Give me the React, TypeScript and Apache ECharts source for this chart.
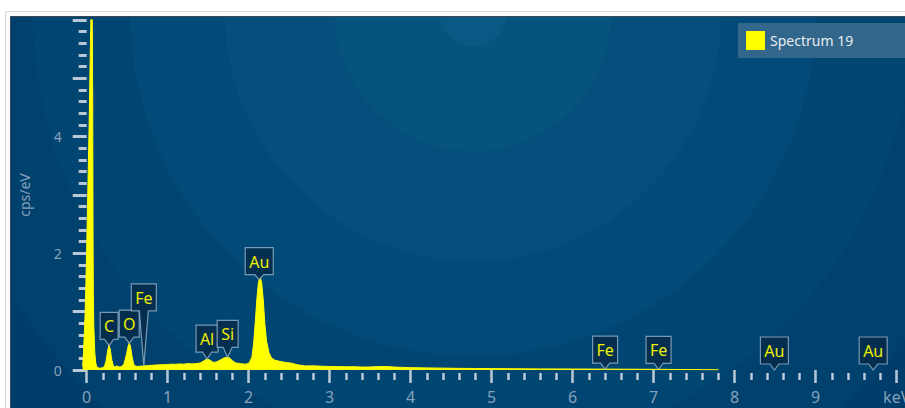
import React, { useEffect, useRef } from "react";
import * as echarts from "echarts";

// EDS spectrum (keV vs cps/eV)
const seriesName = "Spectrum 19";

const energyKeV = [
  -0.05, -0.04, -0.03, -0.02, -0.01, 0, 0.01, 0.02, 0.03, 0.04, 0.05, 0.056, 0.062, 0.068, 0.074, 0.078, 0.082, 0.088, 0.1, 0.11, 0.12, 0.14, 0.16, 0.18, 0.2,
  0.22, 0.24, 0.26, 0.275, 0.29, 0.31, 0.33, 0.35, 0.37, 0.39, 0.41, 0.43, 0.46, 0.49, 0.51, 0.525, 0.54, 0.56, 0.58, 0.6, 0.63, 0.66, 0.7,
  0.75, 0.8, 0.85, 0.9, 0.95, 1.0, 1.05, 1.1, 1.15, 1.2, 1.25, 1.3, 1.35, 1.4, 1.44, 1.47, 1.49, 1.52, 1.55, 1.58, 1.62, 1.66, 1.7, 1.73, 1.76, 1.8, 1.84, 1.9, 1.95, 2.0,
  2.04, 2.06, 2.08, 2.1, 2.12, 2.14, 2.16, 2.18, 2.2, 2.22, 2.25, 2.28, 2.32, 2.38, 2.45, 2.52, 2.6,
  2.7, 2.8, 2.9, 3.0, 3.1, 3.2, 3.3, 3.4, 3.5, 3.6, 3.7, 3.8, 3.9, 4.0, 4.2, 4.4, 4.6, 4.8, 5.0, 5.2,
  5.4, 5.6, 5.8, 6.0, 6.2, 6.4, 6.6, 6.8, 7.0, 7.2, 7.4, 7.6, 7.8,
];

const countsCpsPerEv = [
  0.06, 0.3, 0.6, 0.95, 1.5, 2.1, 2.8, 3.5, 4.2, 5.1, 5.9, 7.4, 9.0, 6.2, 4.6, 2.4, 1.3, 0.75, 0.3, 0.14, 0.07, 0.04, 0.03, 0.035, 0.04,
  0.07, 0.16, 0.34, 0.43, 0.36, 0.17, 0.07, 0.05, 0.07, 0.06, 0.05, 0.06, 0.1, 0.26, 0.4, 0.46, 0.41, 0.23, 0.1, 0.07, 0.06, 0.065, 0.07,
  0.075, 0.08, 0.085, 0.09, 0.09, 0.095, 0.1, 0.098, 0.104, 0.1, 0.11, 0.105, 0.11, 0.12, 0.15, 0.18, 0.19, 0.17, 0.14, 0.13, 0.15, 0.18, 0.21, 0.22, 0.21, 0.16, 0.12, 0.11, 0.1, 0.11,
  0.22, 0.45, 0.8, 1.2, 1.5, 1.6, 1.5, 1.2, 0.78, 0.5, 0.3, 0.21, 0.17, 0.15, 0.13, 0.12, 0.09,
  0.07, 0.072, 0.065, 0.06, 0.058, 0.055, 0.056, 0.05, 0.052, 0.058, 0.06, 0.05, 0.045, 0.04, 0.036, 0.032, 0.028, 0.026, 0.024, 0.022,
  0.02, 0.019, 0.018, 0.017, 0.016, 0.015, 0.014, 0.013, 0.012, 0.01, 0.008, 0.006, 0.004,
];

// Element line markers
const peakNames = ["C", "O", "Fe", "Al", "Si", "Au", "Fe", "Fe", "Au", "Au"];
const peakEnergies = [0.277, 0.525, 0.705, 1.486, 1.74, 2.13, 6.4, 7.06, 8.49, 9.71];

// Axis ticks and labels
const xMajorTicks = [0, 1, 2, 3, 4, 5, 6, 7, 8, 9, 10];
const xUnitLabel = "keV";
const yLabelValues = [0, 2, 4];

// Layout: length of each marker's pointer (px), same order as peakNames
const pointerLengths = [6, 6, 55, 7, 10, 5, 6, 6, 6, 6];

const FONT = "Noto Sans";
const TICK_COLOR = "#b9c9d8";
const LABEL_COLOR = "#86a1bc";
const MARKER_FONT_SIZE = 16;
const BOX_H = 27;

const xMinorTicks: number[] = [];
for (let i = 0; i < xMajorTicks.length - 1; i++) {
  for (let j = 1; j < 5; j++) xMinorTicks.push(+(xMajorTicks[i] + j * 0.2).toFixed(2));
}

function spectrumAt(e: number): number {
  for (let i = 0; i < energyKeV.length - 1; i++) {
    if (e >= energyKeV[i] && e <= energyKeV[i + 1]) {
      const t = (e - energyKeV[i]) / (energyKeV[i + 1] - energyKeV[i]);
      return countsCpsPerEv[i] + t * (countsCpsPerEv[i + 1] - countsCpsPerEv[i]);
    }
  }
  return 0;
}

let measureCtx: CanvasRenderingContext2D | null = null;
function textWidth(t: string): number {
  if (!measureCtx) measureCtx = document.createElement("canvas").getContext("2d");
  if (!measureCtx) return t.length * 9;
  measureCtx.font = `${MARKER_FONT_SIZE}px "${FONT}"`;
  return measureCtx.measureText(t).width;
}

// banded radial glow of the panel background
const ringRadii = [33, 138, 248, 343, 440, 540, 640, 740, 900];
const ringColors = ["#0a5884", "#06537e", "#044f7b", "#024a77", "#014572", "#00416e", "#003d6a", "#003a67", "#003966"];
const GLOW_R = 900;
const glowStops: { offset: number; color: string }[] = [];
ringRadii.forEach((r, i) => {
  const start = i === 0 ? 0 : ringRadii[i - 1] / GLOW_R;
  glowStops.push({ offset: start, color: ringColors[i] });
  glowStops.push({ offset: r / GLOW_R, color: ringColors[i] });
});

export default function App() {
  const ref = useRef<HTMLDivElement>(null);

  useEffect(() => {
    if (!ref.current) return;
    const chart = echarts.init(ref.current, null, { renderer: "svg" });

    const xMin = -0.05;
    const xMax = 10.1;
    const grid = { left: 82.65, top: 20, width: 822.15, height: 350, outerBoundsMode: "none" };

    const option: any = {
      animation: false,
      backgroundColor: "#ffffff",
      graphic: {
        elements: [
          {
            type: "rect",
            z: -100,
            silent: true,
            shape: { x: 5.5, y: 11.5, width: 940, height: 440 },
            style: { fill: "#fbfbfb", stroke: "#d8d8d8", lineWidth: 1 },
          },
          {
            type: "rect",
            z: -99,
            silent: true,
            shape: { x: 10.5, y: 16.5, width: 940, height: 440 },
            style: {
              fill: { type: "radial", x: 473, y: 13, r: GLOW_R, global: true, colorStops: glowStops },
              stroke: "#3b4856",
              lineWidth: 1,
            },
          },
        ],
      },
      legend: {
        data: [{ name: seriesName, icon: "rect" }],
        left: 738,
        top: 23,
        padding: [8, 60, 8, 8],
        itemWidth: 19,
        itemHeight: 19,
        backgroundColor: "#33668b",
        textStyle: { color: "#e6edf3", fontSize: 14, fontFamily: FONT },
        selectedMode: false,
      },
      grid,
      xAxis: [
        {
          type: "value",
          min: xMin,
          max: xMax,
          position: "bottom",
          offset: 3,
          axisLine: { show: false },
          splitLine: { show: false },
          axisTick: {
            show: true,
            customValues: xMajorTicks,
            length: 13,
            lineStyle: { color: TICK_COLOR, width: 2.5 },
          },
          axisLabel: {
            customValues: xMajorTicks,
            formatter: (v: number) => (v === xMajorTicks[xMajorTicks.length - 1] ? xUnitLabel : String(v)),
            margin: 16,
            fontSize: 16,
            fontFamily: FONT,
            color: LABEL_COLOR,
          },
        },
        {
          type: "value",
          min: xMin,
          max: xMax,
          position: "bottom",
          offset: 3,
          axisLine: { show: false },
          splitLine: { show: false },
          axisTick: {
            show: true,
            customValues: xMinorTicks,
            length: 7,
            lineStyle: { color: TICK_COLOR, width: 2.5 },
          },
          axisLabel: { show: false },
        },
      ],
      yAxis: {
        type: "value",
        min: 0,
        max: 6,
        interval: 1,
        offset: 6,
        name: "cps/eV",
        nameLocation: "middle",
        nameGap: 45,
        nameTextStyle: { color: LABEL_COLOR, fontSize: 14, fontFamily: FONT },
        axisLine: { show: false },
        splitLine: { show: false },
        axisTick: { show: true, length: 14, lineStyle: { color: TICK_COLOR, width: 3 } },
        minorTick: { show: true, splitNumber: 5, length: 8, lineStyle: { color: TICK_COLOR, width: 3 } },
        axisLabel: {
          customValues: yLabelValues,
          margin: 15,
          fontSize: 14,
          fontFamily: FONT,
          color: LABEL_COLOR,
        },
      },
      series: [
        {
          type: "line",
          name: seriesName,
          xAxisIndex: 0,
          yAxisIndex: 0,
          data: energyKeV.map((e, i) => [e, countsCpsPerEv[i]]),
          showSymbol: false,
          symbol: "none",
          clip: true,
          z: 3,
          itemStyle: { color: "#ffff00" },
          lineStyle: { color: "#ffff00", width: 1 },
          areaStyle: { color: "#ffff00", opacity: 1 },
        },
        {
          type: "custom",
          name: "markers",
          xAxisIndex: 0,
          yAxisIndex: 0,
          z: 6,
          silent: true,
          data: peakEnergies.map((e, i) => [e, spectrumAt(e), i]),
          encode: { x: 0, y: 1 },
          renderItem: (params: any, api: any) => {
            const idx = api.value(2);
            const pt = api.coord([api.value(0), api.value(1)]);
            const tx = pt[0];
            const ty = pt[1];
            const name = peakNames[idx];
            const w = Math.round(textWidth(name)) + 8;
            const bottom = ty - pointerLengths[idx];
            const top = bottom - BOX_H;
            const left = tx - w / 2;
            const right = tx + w / 2;
            const hw = 4.5;
            return {
              type: "group",
              children: [
                {
                  type: "polygon",
                  shape: {
                    points: [
                      [left, top],
                      [right, top],
                      [right, bottom],
                      [tx + hw, bottom],
                      [tx, ty],
                      [tx - hw, bottom],
                      [left, bottom],
                    ],
                  },
                  style: { fill: "rgba(6,44,74,0.9)", stroke: "rgba(160,186,208,0.75)", lineWidth: 1.2 },
                },
                {
                  type: "text",
                  x: tx,
                  y: (top + bottom) / 2 + 0.5,
                  style: {
                    text: name,
                    fill: "#f0f000",
                    fontSize: MARKER_FONT_SIZE,
                    fontFamily: FONT,
                    align: "center",
                    verticalAlign: "middle",
                  },
                },
              ],
            };
          },
        },
      ],
    };

    chart.setOption(option);
    return () => chart.dispose();
  }, []);

  return (
    <div
      ref={ref}
      style={{ position: "fixed", left: 0, top: 0, width: 905, height: 408 }}
    />
  );
}
